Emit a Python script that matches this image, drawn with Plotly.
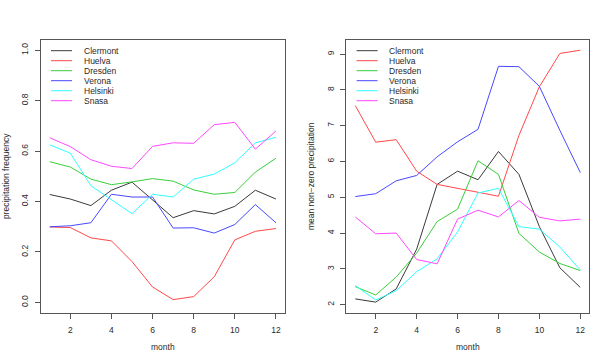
import plotly.graph_objects as go
from plotly import subplots

# monthly data
months = list(range(1, 13))
cities = ['Clermont', 'Huelva', 'Dresden', 'Verona', 'Helsinki', 'Snasa']
colors = ['#3a3a3a', '#FF4848', '#3ACD3A', '#4848FF', '#30FFFF', '#FF48FF']

freq_clermont = [0.428, 0.410, 0.384, 0.445, 0.477, 0.405, 0.336, 0.364, 0.351, 0.381, 0.445, 0.410]
freq_huelva   = [0.299, 0.297, 0.256, 0.244, 0.162, 0.061, 0.011, 0.023, 0.102, 0.248, 0.282, 0.293]
freq_dresden  = [0.558, 0.537, 0.489, 0.467, 0.478, 0.491, 0.481, 0.446, 0.429, 0.436, 0.517, 0.572]
freq_verona   = [0.300, 0.304, 0.316, 0.429, 0.418, 0.418, 0.295, 0.296, 0.275, 0.309, 0.388, 0.316]
freq_helsinki = [0.625, 0.592, 0.463, 0.408, 0.352, 0.429, 0.418, 0.489, 0.509, 0.554, 0.633, 0.655]
freq_snasa    = [0.653, 0.618, 0.566, 0.540, 0.531, 0.619, 0.633, 0.631, 0.705, 0.714, 0.608, 0.680]

mean_clermont = [2.16, 2.07, 2.44, 3.55, 5.36, 5.73, 5.49, 6.28, 5.64, 4.18, 3.03, 2.48]
mean_huelva   = [7.56, 6.54, 6.61, 5.73, 5.36, 5.26, 5.14, 5.03, 6.73, 8.09, 9.02, 9.11]
mean_dresden  = [2.50, 2.27, 2.77, 3.44, 4.32, 4.67, 6.02, 5.64, 3.99, 3.47, 3.15, 2.95]
mean_verona   = [5.02, 5.10, 5.46, 5.61, 6.13, 6.55, 6.90, 8.66, 8.65, 8.10, 6.87, 5.69]
mean_helsinki = [2.53, 2.13, 2.39, 2.92, 3.28, 4.03, 5.12, 5.25, 4.18, 4.11, 3.61, 2.97]
mean_snasa    = [4.45, 3.98, 4.00, 3.26, 3.14, 4.39, 4.64, 4.45, 4.91, 4.44, 4.34, 4.39]

freq = [freq_clermont, freq_huelva, freq_dresden, freq_verona, freq_helsinki, freq_snasa]
means = [mean_clermont, mean_huelva, mean_dresden, mean_verona, mean_helsinki, mean_snasa]

W, H = 610, 363
FONT = 'Liberation Sans, Arial, sans-serif'
FS = 8.5
TXT = '#2a2a2a'


def px_x(p):
    return p / W


def px_y(p):
    return 1 - p / H


fig = subplots.make_subplots(rows=1, cols=2)

for i in range(len(cities)):
    fig.add_trace(go.Scatter(x=months, y=freq[i], mode='lines', name=cities[i],
                             line=dict(color=colors[i], width=1)), 1, 1)
    fig.add_trace(go.Scatter(x=months, y=means[i], mode='lines', name=cities[i],
                             line=dict(color=colors[i], width=1)), 1, 2)

axis_style = dict(showgrid=False, zeroline=False, showline=True, mirror=True,
                  linecolor='#555555', linewidth=1, ticks='outside', ticklen=5,
                  tickcolor='#555555', tickfont=dict(family=FONT, size=FS, color=TXT),
                  automargin=False)

left = (40.7, 285.0)
right = (346.3, 589.3)
top, bottom = 40.2, 312.5

fig.update_xaxes(axis_style, tickvals=[2, 4, 6, 8, 10, 12], range=[0.56, 12.44],
                 ticklabelstandoff=4,
                 title=dict(text='month', font=dict(family=FONT, size=FS, color=TXT), standoff=10))
fig.update_xaxes(domain=[px_x(left[0]), px_x(left[1])], row=1, col=1)
fig.update_xaxes(domain=[px_x(right[0]), px_x(right[1])], row=1, col=2)

fig.update_yaxes(axis_style, tickangle=-90, ticklabelstandoff=3)
fig.update_yaxes(domain=[px_y(bottom), px_y(top)], range=[-0.04, 1.04],
                 tickvals=[0.0, 0.2, 0.4, 0.6, 0.8, 1.0], tickformat='.1f',
                 title=dict(text='precipitation frequency',
                            font=dict(family=FONT, size=FS, color=TXT), standoff=9),
                 row=1, col=1)
fig.update_yaxes(domain=[px_y(bottom), px_y(top)], range=[1.78, 9.39],
                 tickvals=[2, 3, 4, 5, 6, 7, 8, 9],
                 title=dict(text='mean non\u2212zero precipitation',
                            font=dict(family=FONT, size=FS, color=TXT), standoff=9),
                 row=1, col=2)

# R-style legends drawn inside each panel (plotly's legend rows are too tall)
shapes = []
annotations = []
for x0 in (left[0], right[0]):
    for i in range(len(cities)):
        yy = px_y(50.7 + 10 * i)
        shapes.append(dict(type='line', xref='paper', yref='paper',
                           x0=px_x(x0 + 10.3), x1=px_x(x0 + 31.3), y0=yy, y1=yy,
                           line=dict(color=colors[i], width=1)))
        annotations.append(dict(xref='paper', yref='paper', x=px_x(x0 + 41.0), y=yy,
                                text=cities[i], showarrow=False, xanchor='left', yanchor='middle',
                                font=dict(family=FONT, size=FS, color=TXT)))

fig.update_layout(width=W, height=H, margin=dict(l=0, r=0, t=0, b=0),
                  paper_bgcolor='white', plot_bgcolor='white', showlegend=False,
                  shapes=shapes, annotations=annotations)

# drop the browser's default 8px body margin so the figure sits at the window origin
fig.write_html("out.html", config={'displayModeBar': False},
               post_script="document.body.style.margin='0';")
